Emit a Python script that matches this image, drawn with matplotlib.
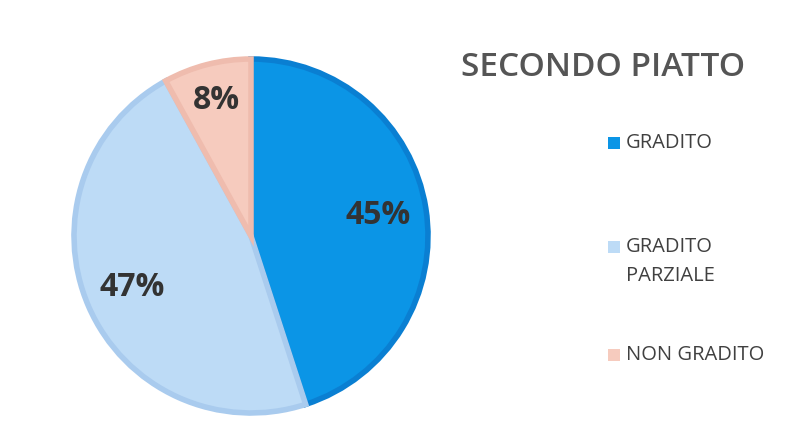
import matplotlib
matplotlib.use("Agg")
import matplotlib.pyplot as plt
from matplotlib.patches import Rectangle

# --- DATA ---
TITLE = "SECONDO PIATTO"
CATEGORIES = ["GRADITO", "GRADITO\nPARZIALE", "NON GRADITO"]
VALUES = [45, 47, 8]
FILL_COLORS = ["#0b95e6", "#bddbf6", "#f6cbbe"]
EDGE_COLORS = ["#0a7fd2", "#a9cbee", "#efbcae"]

plt.rcParams['font.family'] = ['Open Sans', 'DejaVu Sans']

W, H = 789, 448
fig = plt.figure(figsize=(W / 100, H / 100), dpi=100)
fig.patch.set_facecolor("white")

# pie axes: centre ~ (251, 236) px, radius ~177 px
cx, cy, r = 251, 236, 177
pad = 1.04
ax = fig.add_axes([(cx - r * pad) / W, (H - cy - r * pad) / H, 2 * r * pad / W, 2 * r * pad / H])

wedges, texts, autotexts = ax.pie(
    VALUES, colors=FILL_COLORS, startangle=90, counterclock=False,
    autopct=lambda p: f"{p:.0f}%", pctdistance=0.73,
    wedgeprops=dict(linewidth=0),
    textprops=dict(fontsize=23, fontweight="bold", color="#333333"),
)
# darker border on each slice
for w, ec in zip(wedges, EDGE_COLORS):
    w.set_edgecolor(ec)
    w.set_linewidth(4)
    w.set_joinstyle("miter")
# small slice label sits a bit further out
x, y = autotexts[2].get_position()
autotexts[2].set_position((x * 1.08, y * 1.08))

ax.set_xlim(-pad, pad)
ax.set_ylim(-pad, pad)
ax.set_aspect("equal")
ax.axis("off")

# title
fig.text(603 / W, 1 - 68 / H, TITLE, fontsize=24, color="#555555",
         fontweight="semibold", ha="center", va="center")

# legend drawn by hand to match layout
legend_y = [143, 247, 355]
for label, col, ly in zip(CATEGORIES, FILL_COLORS, legend_y):
    fig.patches.append(Rectangle((608 / W, 1 - (ly + 6) / H), 12 / W, 12 / H,
                                 transform=fig.transFigure, facecolor=col,
                                 edgecolor="none"))
    if "\n" in label:
        fig.text(626 / W, 1 - (ly - 10) / H, label, fontsize=14.5, color="#404040",
                 ha="left", va="top", linespacing=1.6)
    else:
        fig.text(626 / W, 1 - ly / H, label, fontsize=14.5, color="#404040",
                 ha="left", va="center")

fig.savefig("out.png", dpi=100, facecolor="white")
